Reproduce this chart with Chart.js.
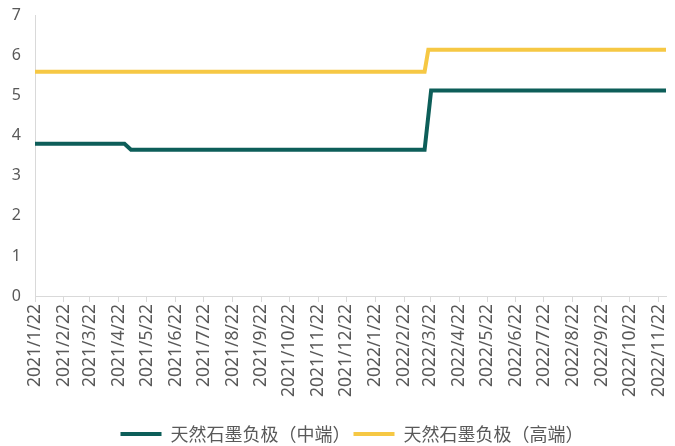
<!DOCTYPE html>
<html>
<head>
<meta charset="utf-8">
<script src="https://cdn.jsdelivr.net/npm/chart.js@4"></script>
<style>
    body { margin: 0; background: #ffffff; }
    #grafico { display: block; }
</style>
</head>
<body>
<canvas id="grafico" width="675" height="446"></canvas>
<script>
// dados (preço, 万元/吨)
const rotuloMedio = '天然石墨负极（中端）';
const rotuloAlto = '天然石墨负极（高端）';

const datasMedio = ['2021/1/22', '2021/4/28', '2021/5/5', '2022/3/16', '2022/3/23', '2022/11/30'];
const valoresMedio = [3.8, 3.8, 3.65, 3.65, 5.13, 5.13];

const datasAlto = ['2021/1/22', '2022/3/16', '2022/3/20', '2022/11/30'];
const valoresAlto = [5.6, 5.6, 6.15, 6.15];

const rotulosEixoX = ['2021/1/22', '2021/2/22', '2021/3/22', '2021/4/22', '2021/5/22', '2021/6/22',
    '2021/7/22', '2021/8/22', '2021/9/22', '2021/10/22', '2021/11/22', '2021/12/22',
    '2022/1/22', '2022/2/22', '2022/3/22', '2022/4/22', '2022/5/22', '2022/6/22',
    '2022/7/22', '2022/8/22', '2022/9/22', '2022/10/22', '2022/11/22'];
const rotulosEixoY = [0, 1, 2, 3, 4, 5, 6, 7];

const dataInicio = '2021/1/22';
const dataFim = '2022/11/30';

// converte 'aaaa/m/d' em dias desde o início
function diaDe(texto) {
    const p = texto.split('/').map(Number);
    const base = dataInicio.split('/').map(Number);
    return (Date.UTC(p[0], p[1] - 1, p[2]) - Date.UTC(base[0], base[1] - 1, base[2])) / 86400000;
}

function pontos(datas, valores) {
    return datas.map((d, i) => ({ x: diaDe(d), y: valores[i] }));
}

const corMedio = '#0d5e59';
const corAlto = '#f6c844';
const corEixo = '#d9d9d9';
const corTexto = '#595959';

// empurra a legenda um pouco para a direita e para baixo
const ajusteLegenda = {
    id: 'ajusteLegenda',
    afterLayout: function (chart) {
        const leg = chart.legend;
        leg.left += 19;
        leg.right += 19;
        leg.top += 7;
        leg.bottom += 7;
    }
};

const ctx = document.getElementById('grafico');

var graficoLinhas = new Chart(ctx, {
    type: 'line',
    data: {
        datasets: [{
            label: rotuloMedio,
            data: pontos(datasMedio, valoresMedio),
            borderColor: corMedio,
            backgroundColor: corMedio,
            borderWidth: 4,
            pointRadius: 0,
            tension: 0
        }, {
            label: rotuloAlto,
            data: pontos(datasAlto, valoresAlto),
            borderColor: corAlto,
            backgroundColor: corAlto,
            borderWidth: 4,
            pointRadius: 0,
            tension: 0
        }]
    },
    plugins: [ajusteLegenda],
    options: {
        responsive: false,
        animation: false,
        devicePixelRatio: 1,
        layout: {
            padding: { left: 0, top: 6, right: 9, bottom: 0 }
        },
        plugins: {
            tooltip: { enabled: false },
            legend: {
                position: 'bottom',
                labels: {
                    boxWidth: 41,
                    boxHeight: 4,
                    padding: 3,
                    color: corTexto,
                    font: { family: '"Noto Sans CJK SC", "Noto Sans"', size: 18, lineHeight: 1 },
                    generateLabels: function (chart) {
                        return chart.data.datasets.map((ds, i) => ({
                            text: ds.label,
                            fillStyle: ds.borderColor,
                            strokeStyle: ds.borderColor,
                            lineWidth: 0,
                            fontColor: corTexto,
                            datasetIndex: i
                        }));
                    }
                }
            }
        },
        scales: {
            x: {
                type: 'linear',
                min: 0,
                max: diaDe(dataFim),
                afterBuildTicks: function (scale) {
                    scale.ticks = rotulosEixoX.map(r => ({ value: diaDe(r) }));
                },
                afterFit: function (scale) {
                    scale.height = 119;
                    scale.paddingLeft = 0;
                    scale.paddingRight = 0;
                },
                ticks: {
                    autoSkip: false,
                    minRotation: 90,
                    maxRotation: 90,
                    padding: 2,
                    color: corTexto,
                    font: { family: '"Noto Sans"', size: 17.5 },
                    callback: function (valor, indice) {
                        return rotulosEixoX[indice];
                    }
                },
                grid: {
                    drawOnChartArea: false,
                    drawTicks: true,
                    tickLength: 6,
                    color: corEixo
                },
                border: { display: true, color: corEixo, width: 1 }
            },
            y: {
                min: 0,
                max: 7,
                afterBuildTicks: function (scale) {
                    scale.ticks = rotulosEixoY.map(v => ({ value: v }));
                },
                afterFit: function (scale) {
                    scale.width = 35;
                },
                ticks: {
                    padding: 6,
                    color: corTexto,
                    font: { family: '"Noto Sans"', size: 16 }
                },
                grid: {
                    display: false
                },
                border: { display: true, color: corEixo, width: 1 }
            }
        }
    }
});
</script>
</body>
</html>
